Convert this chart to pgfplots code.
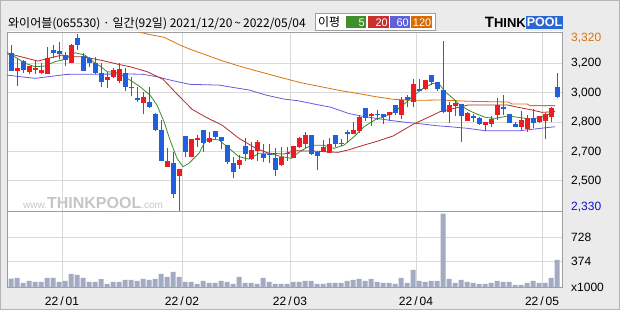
\documentclass[border=0pt]{standalone}
\usepackage{pgfplots}
\pgfplotsset{compat=1.18}
\usepackage{pgfplotstable}
\usepackage{fontspec}
\setmainfont{Liberation Sans}
\newfontfamily\kr{Noto Sans CJK KR}
\definecolor{cBg}{HTML}{EBEBEB}
\definecolor{cOuter}{HTML}{B4B4B4}
\definecolor{cFrame}{HTML}{9E9E9E}
\definecolor{cGrid}{HTML}{D9D9D9}
\definecolor{cUp}{HTML}{ED1C24}
\definecolor{cDn}{HTML}{2060E0}
\definecolor{cMA5}{HTML}{3C8C28}
\definecolor{cMA20}{HTML}{B42A2A}
\definecolor{cMA60}{HTML}{6A5ADF}
\definecolor{cMA120}{HTML}{D9730D}
\definecolor{cVol}{HTML}{A3ABC3}
\definecolor{cWm}{HTML}{C6C6C6}
\definecolor{cLow}{HTML}{1010D0}
\definecolor{lgG}{HTML}{3F8F2B}
\definecolor{lgR}{HTML}{C8302C}
\definecolor{lgP}{HTML}{6060D8}
\definecolor{lgO}{HTML}{D96B00}
\definecolor{cLogo}{HTML}{2A66D6}

\pgfplotstableread{
i o h l c
1 3107 3175 3023 3120
3 3100 3133 3089 3133
4 3111 3162 3089 3122
5 3096 3148 3089 3111
6 3091 3236 3091 3177
10 3148 3254 3148 3248
16 3056 3102 3010 3071
17 3074 3120 3069 3111
18 3052 3151 3041 3115
20 3014 3074 2970 3020
22 2931 2992 2867 2964
26 2579 2680 2579 2610
28 2530 2567 2336 2565
30 2634 2733 2632 2731
31 2726 2753 2689 2739
33 2717 2772 2708 2739
38 2588 2643 2565 2616
40 2623 2717 2616 2671
41 2667 2726 2612 2715
45 2587 2689 2583 2632
46 2647 2686 2612 2653
47 2629 2695 2625 2693
48 2689 2744 2680 2739
49 2704 2772 2680 2753
52 2660 2726 2658 2689
53 2656 2735 2654 2704
55 2704 2730 2692 2710
57 2759 2825 2757 2781
58 2777 2864 2763 2851
60 2860 2876 2805 2869
63 2862 2882 2832 2880
65 2864 2964 2840 2946
67 2937 3061 2909 3034
69 3005 3058 3001 3056
73 2882 2937 2821 2918
74 2913 2946 2858 2928
76 2832 2882 2830 2873
79 2809 2827 2777 2825
80 2814 2858 2799 2842
81 2864 2955 2836 2917
85 2799 2886 2781 2836
86 2787 2864 2772 2845
88 2825 2860 2821 2858
89 2832 2876 2730 2869
90 2851 2909 2827 2900
}\up

\pgfplotstableread{
i o h l c
0 3206 3248 3105 3107
2 3160 3166 3096 3111
7 3221 3248 3175 3206
8 3215 3263 3170 3199
9 3193 3212 3133 3166
11 3287 3309 3221 3248
12 3188 3203 3107 3107
13 3175 3184 3129 3148
14 3151 3184 3089 3096
15 3096 3148 3016 3047
19 3093 3120 2997 3016
21 2959 3019 2937 2946
23 2937 3019 2900 2909
24 2869 2872 2777 2781
25 2781 2836 2610 2612
27 2598 2662 2405 2427
29 2748 2750 2634 2662
32 2781 2783 2662 2708
34 2775 2777 2730 2744
35 2742 2744 2675 2722
36 2698 2700 2594 2607
37 2598 2634 2515 2552
39 2693 2735 2612 2649
42 2649 2704 2607 2629
43 2651 2704 2601 2645
44 2627 2680 2530 2559
50 2753 2755 2643 2647
51 2662 2664 2561 2640
54 2753 2755 2689 2706
56 2772 2781 2708 2757
59 2900 2902 2832 2845
61 2867 2891 2836 2862
62 2869 2871 2814 2854
64 2918 2920 2864 2876
66 2962 2973 2909 2944
68 3003 3061 2995 2998
70 3083 3085 3028 3047
71 3045 3047 2995 3005
72 3001 3270 2873 2882
75 2924 2926 2717 2858
77 2858 2869 2827 2845
78 2849 2851 2809 2814
82 2906 2974 2864 2897
83 2869 2871 2818 2821
84 2814 2827 2796 2799
87 2847 2895 2790 2821
91 3016 3093 2955 2964
}\dn

\pgfplotstableread{
i v
0 127
1 137
2 64
3 93
4 78
5 78
6 137
7 137
8 78
9 93
10 196
11 181
12 137
13 78
14 78
15 118
16 49
17 78
18 78
19 108
20 108
21 93
22 123
23 108
24 123
25 196
26 152
27 225
28 152
29 78
30 78
31 49
32 93
33 64
34 64
35 93
36 78
37 49
38 152
39 64
40 64
41 49
42 137
43 78
44 49
45 49
46 49
47 78
48 78
49 93
50 93
51 49
52 49
53 64
54 64
55 64
56 93
57 108
58 123
59 93
60 123
61 78
62 64
63 64
64 49
65 137
66 64
67 255
68 93
69 78
70 93
71 93
72 1078
73 123
74 64
75 108
76 78
77 64
78 49
79 49
80 64
81 93
82 78
83 78
84 34
85 34
86 64
87 93
88 64
89 64
90 137
91 402
}\vol

\begin{document}
\begin{tikzpicture}
\fill[cBg] (0,0) rectangle (620pt,310pt);
\draw[cOuter, line width=1pt] (0.5pt,0.5pt) rectangle (619.5pt,309.5pt);
\fill[white] (7pt,22.7pt) rectangle (562pt,278.5pt);
% watermark
\node[anchor=base west, inner sep=0pt, text=cWm] at (23pt,101pt)
  {\fontsize{10}{10}\selectfont www.\fontsize{16}{16}\selectfont\bfseries THINKPOOL\fontsize{10}{10}\selectfont\mdseries .com};
% title
\node[anchor=west, inner sep=0pt] at (8pt,286pt)
  {\kr\fontsize{12}{14}\selectfont 와이어블(065530) · 일간(92일) 2021/12/20\,\textasciitilde\,2022/05/04};
% legend box
\draw[fill=white, draw=cFrame, line width=1pt] (315pt,279pt) rectangle (435pt,296pt);
\node[anchor=west, inner sep=0pt] at (318pt,287.5pt) {\kr\fontsize{12}{14}\selectfont 이평};
\fill[lgG] (346pt,281.5pt) rectangle (366pt,294pt);
\fill[lgR] (368pt,281.5pt) rectangle (389pt,294pt);
\fill[lgP] (390pt,281.5pt) rectangle (410pt,294pt);
\fill[lgO] (411pt,281.5pt) rectangle (432pt,294pt);
\node[anchor=east, inner sep=0pt, text=white] at (365pt,287.7pt) {\fontsize{11}{12}\selectfont 5};
\node[anchor=east, inner sep=0pt, text=white] at (388pt,287.7pt) {\fontsize{11}{12}\selectfont 20};
\node[anchor=east, inner sep=0pt, text=white] at (409pt,287.7pt) {\fontsize{11}{12}\selectfont 60};
\node[anchor=east, inner sep=0pt, text=white] at (431.5pt,287.7pt) {\fontsize{11}{12}\selectfont 120};
% logo
\node[anchor=east, inner sep=0pt] at (526pt,287.5pt) {\bfseries\fontsize{15}{15}\selectfont T\fontsize{13}{13}\selectfont HINK};
\fill[cLogo] (526pt,280.7pt) rectangle (563pt,294pt);
\node[inner sep=0pt, text=white] at (544.5pt,287.3pt) {\bfseries\fontsize{12.5}{13}\selectfont POOL};

% price panel
\begin{axis}[
  at={(7pt,98pt)}, anchor=south west, scale only axis,
  width=555pt, height=180pt,
  xmin=-0.667, xmax=91.833, ymin=2330, ymax=3320,
  axis line style={draw=cFrame, line width=1pt},
  xtick={8.5,28.5,46.5,67.5,88.5}, xticklabels={},
  ytick={3148,2986,2823,2661,2502},
  yticklabels={{3,200},{3,000},{2,800},{2,700},{2,500}},
  extra y ticks={3287,2357},
  extra y tick labels={{\textcolor{cMA120}{3,320}},{\textcolor{cLow}{2,330}}},
  extra y tick style={grid=none},
  yticklabel pos=right,
  yticklabel style={anchor=west, inner sep=0pt, xshift=9pt},
  tick label style={font=\fontsize{12}{14}\selectfont},
  major tick length=0pt,
  grid=major, major grid style={draw=cGrid, line width=1pt},
]
\addplot[cMA120, line width=0.8pt] coordinates {(18.17,3349) (22.67,3309) (25.5,3291) (28.17,3248) (30.17,3221) (33,3188) (35.17,3162) (38,3133) (40.83,3107) (45.5,3065) (48.33,3041) (51.67,3019) (55,2997) (58.33,2979) (60.83,2964) (63.67,2950) (67,2944) (71.5,2946) (76.17,2939) (82.83,2935) (83.5,2924) (86,2924) (86.5,2915) (90.67,2915)};
\addplot[cMA60, line width=0.8pt] coordinates {(-0.67,3083) (4,3065) (9.33,3087) (19.83,3089) (22,3087) (24.33,3074) (27,3052) (29.83,3032) (34.67,3028) (36.83,3016) (39.67,3001) (42.5,2973) (45.5,2951) (47.83,2942) (50.5,2924) (53.33,2906) (56.17,2873) (58.33,2858) (60.83,2845) (63.67,2832) (65.83,2823) (67.5,2818) (70.83,2805) (73.17,2799) (76.17,2790) (79,2777) (84.83,2777) (87.67,2788) (90.67,2799)};
\addplot[cMA20, line width=0.8pt] coordinates {(-0.67,3206) (1.17,3188) (4.5,3160) (6.17,3175) (8.5,3193) (10.17,3184) (11.83,3184) (14.83,3166) (17.67,3144) (19.83,3129) (22.67,3102) (25.33,3060) (27.67,2979) (30.17,2895) (32.5,2851) (35.17,2808) (38,2735) (40.83,2680) (43,2653) (45.5,2649) (47.17,2667) (50.5,2665) (54.5,2658) (56.17,2671) (58.83,2698) (60.83,2717) (63.67,2748) (67,2812) (70.33,2863) (71.5,2882) (76.17,2918) (82.83,2918) (84.5,2906) (86.83,2891) (88.5,2878) (90.67,2882)};
\addplot[cMA5, line width=0.8pt] coordinates {(-0.67,3199) (0.17,3193) (2.33,3148) (4,3129) (5.67,3133) (7.33,3157) (9,3170) (10.67,3206) (12.33,3193) (14,3148) (14.83,3133) (16,3102) (17.67,3096) (19.83,3056) (21.5,3019) (23.17,2973) (24.33,2918) (25.5,2827) (26.5,2726) (27.67,2625) (28.67,2579) (29.67,2598) (31.33,2653) (32.5,2726) (33.5,2730) (34.67,2726) (36.33,2680) (38,2634) (39.67,2621) (41.33,2653) (43,2653) (44.67,2638) (46.67,2625) (48.33,2667) (50,2697) (52.17,2697) (53.83,2680) (55.5,2698) (57.17,2744) (58.83,2799) (60.83,2840) (62,2851) (63.67,2876) (65.33,2918) (67,2968) (68.67,3010) (70.33,3038) (71.5,3028) (72.33,2992) (73.67,2955) (74.83,2918) (76.17,2891) (77.33,2873) (79,2851) (80.67,2845) (82.83,2858) (84.5,2851) (86.83,2840) (89,2858) (90.67,2885)};
% wicks
\addplot[draw=none, mark=none, forget plot, error bars/.cd, y dir=plus, y explicit, error mark=none,
  error bar style={draw=cUp, line width=1pt}]
  table[x=i, y=l, y error plus expr={\thisrow{h}-\thisrow{l}}] {\up};
\addplot[draw=none, mark=none, forget plot, error bars/.cd, y dir=plus, y explicit, error mark=none,
  error bar style={draw=cDn, line width=1pt}]
  table[x=i, y=l, y error plus expr={\thisrow{h}-\thisrow{l}}] {\dn};
% bodies
\addplot[draw=none, mark=none, forget plot, error bars/.cd, y dir=plus, y explicit, error mark=none,
  error bar style={draw=cUp, line width=5pt}]
  table[x=i, y=o, y error plus expr={max(\thisrow{c}-\thisrow{o},6)}] {\up};
\addplot[draw=none, mark=none, forget plot, error bars/.cd, y dir=plus, y explicit, error mark=none,
  error bar style={draw=cDn, line width=5pt}]
  table[x=i, y=c, y error plus expr={max(\thisrow{o}-\thisrow{c},6)}] {\dn};
\end{axis}

% volume panel
\begin{axis}[
  at={(7pt,22.7pt)}, anchor=south west, scale only axis,
  width=555pt, height=75.3pt,
  xmin=-0.667, xmax=91.833, ymin=0, ymax=1100,
  axis line style={draw=cFrame, line width=1pt},
  xtick={8.5,28.5,46.5,67.5,88.5},
  xticklabels={{22\,/\,01},{22\,/\,02},{22\,/\,03},{22\,/\,04},{22\,/\,05}},
  xticklabel style={anchor=north, inner sep=0pt, yshift=-9.5pt},
  ytick={374,728}, yticklabels={374,728},
  extra y ticks={0}, extra y tick labels={x1000}, extra y tick style={grid=none},
  yticklabel pos=right,
  yticklabel style={anchor=west, inner sep=0pt, xshift=9pt},
  tick label style={font=\fontsize{12}{14}\selectfont},
  major tick length=0pt,
  grid=major, major grid style={draw=cGrid, line width=1pt},
]
\addplot[ybar, bar width=5pt, bar shift=0pt, fill=cVol, draw=none] table[x=i, y=v] {\vol};
\end{axis}
\pgfresetboundingbox
\useasboundingbox (0,0) rectangle (620pt,310pt);
\end{tikzpicture}
\end{document}
